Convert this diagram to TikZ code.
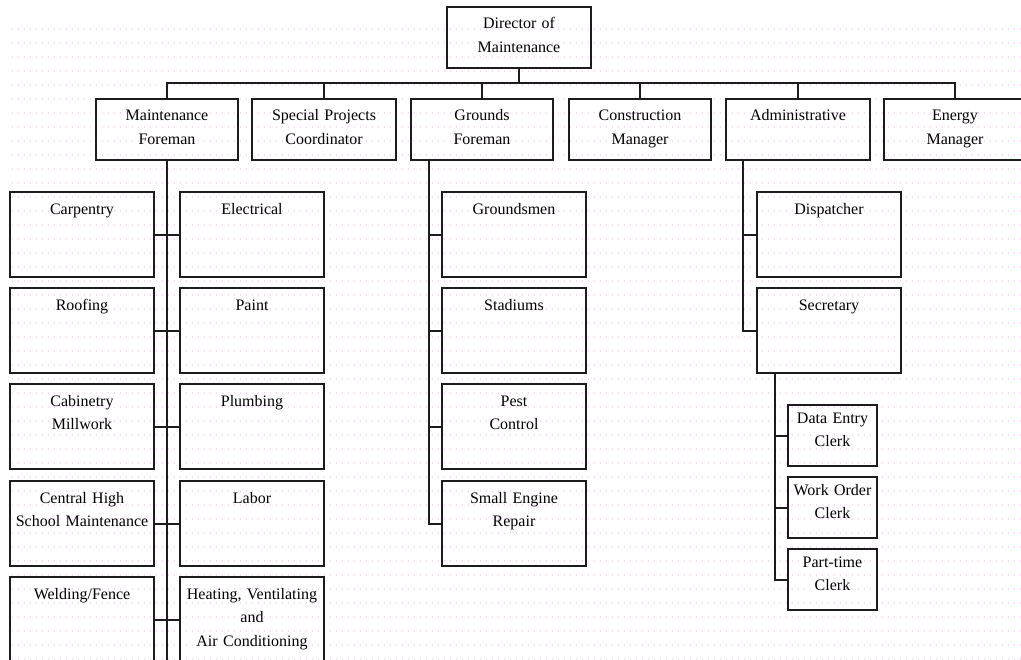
\documentclass[tikz,border=0pt]{standalone}
\usepackage{fontspec}
\setmainfont{Liberation Serif}
\definecolor{dotpink}{RGB}{248,216,248}
\definecolor{ink}{RGB}{28,28,28}
\begin{document}
\begin{tikzpicture}[x=0.75pt,y=-0.75pt,
  unit/.style 2 args={draw=ink, line width=1.5pt, rectangle, inner sep=0pt, outer sep=0pt,
    anchor=north west, minimum width=#1*0.75pt, minimum height=#2*0.75pt},
  wide/.style={unit={144}{85}},
  head/.style={unit={#1}{61}},
  clerk/.style={unit={89}{61}},
  wire/.style={draw=ink, line width=1.5pt},
  txt/.style={anchor=base, align=center, inner sep=0pt, text width=110pt,
    font=\fontsize{12}{17.8}\selectfont},
  bgdots/.style={draw=dotpink, line width=0.9pt, dash pattern=on 0.9pt off 3.6pt}]

\useasboundingbox (0,0) rectangle (1021,660);
\fill[white] (0,0) rectangle (1021,660);
% faint dotted page background
\foreach \yy in {29,43,...,660} {
  \draw[bgdots] (12,\yy) -- (1021,\yy);
}

% top level
\node[head=144] (dir) at (447,7) {};
\node[txt] (dir-t) at ([yshift=-16.5pt]dir.north) {Director of\\Maintenance};

% second level
\node[head=142] (mf)  at (96,99)  {};
\node[head=144] (spc) at (252,99) {};
\node[head=142] (gf)  at (411,99) {};
\node[head=142] (cm)  at (569,99) {};
\node[head=144] (adm) at (726,99) {};
\node[head=142] (em)  at (884,99) {};
\node[txt] (mf-t)  at ([yshift=-16.5pt]mf.north)  {Maintenance\\Foreman};
\node[txt] (spc-t) at ([yshift=-16.5pt]spc.north) {Special Projects\\Coordinator};
\node[txt] (gf-t)  at ([yshift=-16.5pt]gf.north)  {Grounds\\Foreman};
\node[txt] (cm-t)  at ([yshift=-16.5pt]cm.north)  {Construction\\Manager};
\node[txt] (adm-t) at ([yshift=-16.5pt]adm.north) {Administrative};
\node[txt] (em-t)  at ([yshift=-16.5pt]em.north)  {Energy\\Manager};

% maintenance trades, left column
\node[wide] (carp) at (10,192) {};
\node[wide] (roof) at (10,288) {};
\node[wide] (cab)  at (10,384) {};
\node[wide] (chs)  at (10,481) {};
\node[wide] (weld) at (10,577) {};
% maintenance trades, right column
\node[wide] (elec)  at (180,192) {};
\node[wide] (paint) at (180,288) {};
\node[wide] (plumb) at (180,384) {};
\node[wide] (labor) at (180,481) {};
\node[wide] (hvac)  at (180,577) {};

\node[txt] (carp-t)  at ([yshift=-16.5pt]carp.north)  {Carpentry};
\node[txt] (roof-t)  at ([yshift=-16.5pt]roof.north)  {Roofing};
\node[txt] (cab-t)   at ([yshift=-16.5pt]cab.north)   {Cabinetry\\Millwork};
\node[txt] (chs-t)   at ([yshift=-16.5pt]chs.north)   {Central High\\School Maintenance};
\node[txt] (weld-t)  at ([yshift=-16.5pt]weld.north)  {Welding/Fence};
\node[txt] (elec-t)  at ([yshift=-16.5pt]elec.north)  {Electrical};
\node[txt] (paint-t) at ([yshift=-16.5pt]paint.north) {Paint};
\node[txt] (plumb-t) at ([yshift=-16.5pt]plumb.north) {Plumbing};
\node[txt] (labor-t) at ([yshift=-16.5pt]labor.north) {Labor};
\node[txt] (hvac-t)  at ([yshift=-16.5pt]hvac.north)  {Heating, Ventilating\\and\\Air Conditioning};

% grounds crews
\node[wide] (grm)  at (442,192) {};
\node[wide] (stad) at (442,288) {};
\node[wide] (pest) at (442,384) {};
\node[wide] (sme)  at (442,481) {};
\node[txt] (grm-t)  at ([yshift=-16.5pt]grm.north)  {Groundsmen};
\node[txt] (stad-t) at ([yshift=-16.5pt]stad.north) {Stadiums};
\node[txt] (pest-t) at ([yshift=-16.5pt]pest.north) {Pest\\Control};
\node[txt] (sme-t)  at ([yshift=-16.5pt]sme.north)  {Small Engine\\Repair};

% administrative staff
\node[wide] (disp) at (757,192) {};
\node[wide] (sec)  at (757,288) {};
\node[txt] (disp-t) at ([yshift=-16.5pt]disp.north) {Dispatcher};
\node[txt] (sec-t)  at ([yshift=-16.5pt]sec.north)  {Secretary};

% clerks
\node[clerk] (dec) at (788,405) {};
\node[clerk] (woc) at (788,477) {};
\node[clerk] (ptc) at (788,549) {};
\node[txt] (dec-t) at ([yshift=-13.5pt]dec.north) {Data Entry\\Clerk};
\node[txt] (woc-t) at ([yshift=-13.5pt]woc.north) {Work Order\\Clerk};
\node[txt] (ptc-t) at ([yshift=-13.5pt]ptc.north) {Part-time\\Clerk};

% director to second level
\foreach \n in {mf,spc,gf,cm,adm,em} {
  \draw[wire] (dir.south) -- ++(0,15) -| (\n.north);
}

% maintenance spine and row links
\coordinate (mfend) at (167,668);
\draw[wire] (mf.south) -- (mfend);
\draw[wire] (carp.east) -- (elec.west);
\draw[wire] (roof.east) -- (paint.west);
\draw[wire] (cab.east)  -- (plumb.west);
\draw[wire] (chs.east)  -- (labor.west);
\draw[wire] (weld.east) -- (hvac.west);

% grounds spine
\coordinate (gtop) at ([xshift=13.5pt]gf.south west);
\foreach \n in {grm,stad,pest,sme} {
  \draw[wire] (gtop) |- (\n.west);
}

% administrative spine
\coordinate (atop) at ([xshift=12.75pt]adm.south west);
\foreach \n in {disp,sec} {
  \draw[wire] (atop) |- (\n.west);
}

% secretary spine
\coordinate (stop) at ([xshift=13.5pt]sec.south west);
\foreach \n in {dec,woc,ptc} {
  \draw[wire] (stop) |- (\n.west);
}
\end{tikzpicture}
\end{document}
